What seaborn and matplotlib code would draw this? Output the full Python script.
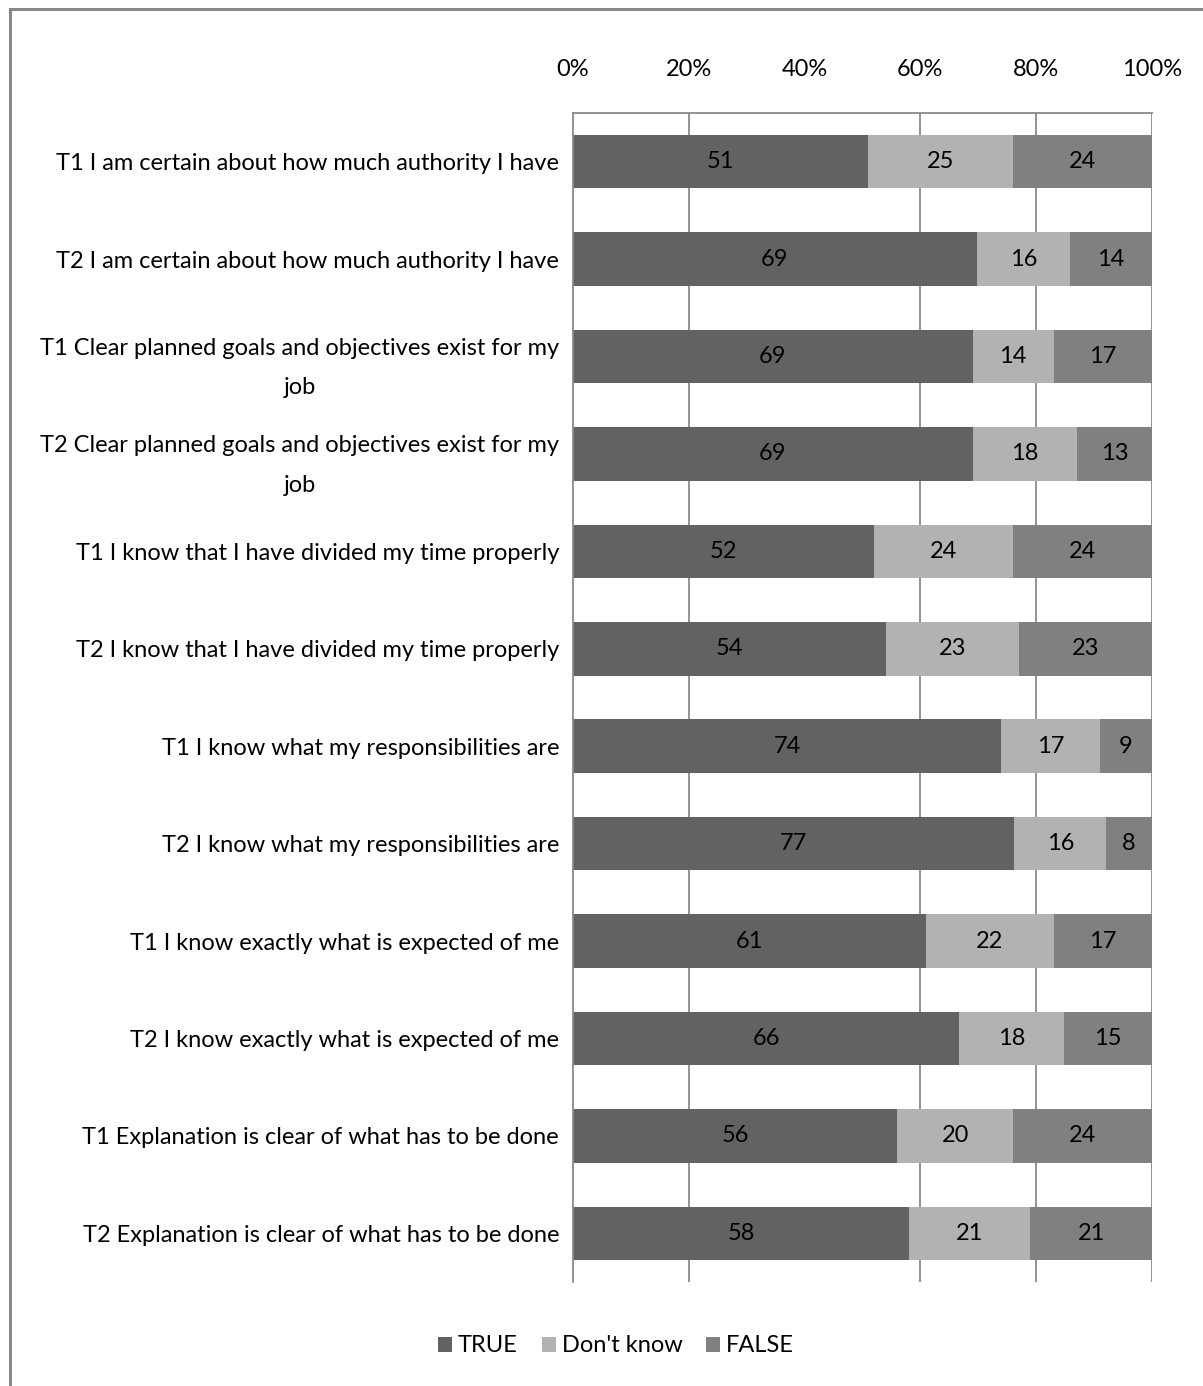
import matplotlib
matplotlib.use("Agg")
import matplotlib.pyplot as plt
from matplotlib.patches import Rectangle, Patch
import numpy as np
import pandas as pd
import seaborn as sns

# Survey statements (T1 / T2 waves) and response percentages
statements = [
    "T1 I am certain about how much authority I have",
    "T2 I am certain about how much authority I have",
    "T1 Clear planned goals and objectives exist for my\njob",
    "T2 Clear planned goals and objectives exist for my\njob",
    "T1 I know that I have divided my time properly",
    "T2 I know that I have divided my time properly",
    "T1 I know what my responsibilities are",
    "T2 I know what my responsibilities are",
    "T1 I know exactly what is expected of me",
    "T2 I know exactly what is expected of me",
    "T1 Explanation is clear of what has to be done",
    "T2 Explanation is clear of what has to be done",
]
true_pct = [51, 69, 69, 69, 52, 54, 74, 77, 61, 66, 56, 58]
dontknow_pct = [25, 16, 14, 18, 24, 23, 17, 16, 22, 18, 20, 21]
false_pct = [24, 14, 17, 13, 24, 23, 9, 8, 17, 15, 24, 21]

series_names = ["TRUE", "Don't know", "FALSE"]
series_colors = ["#626262", "#b2b2b2", "#808080"]
x_ticks = [0, 20, 40, 60, 80, 100]
grid_at = [20, 60, 80, 100]

sns.set_theme(style="white")
plt.rcParams["font.family"] = ["Lato", "DejaVu Sans"]
plt.rcParams["text.color"] = "black"
plt.rcParams["xtick.color"] = "black"
plt.rcParams["ytick.color"] = "black"

df = pd.DataFrame({
    "statement": statements,
    "TRUE": true_pct,
    "Don't know": dontknow_pct,
    "FALSE": false_pct,
})
totals = df[series_names].sum(axis=1)
share = df[series_names].div(totals, axis=0) * 100
cum = share.cumsum(axis=1)

W, H = 1203, 1386
FS = 17
fig = plt.figure(figsize=(W / 100, H / 100), dpi=100)
ax = fig.add_axes([573 / W, 1 - 1282 / H, (1152 - 573) / W, (1282 - 113) / H])

# Outer frame of the chart area
fig.patches.append(Rectangle((10 / W, -0.05), 1.2, 1 - 8.5 / H + 0.05,
                             transform=fig.transFigure, fill=False,
                             edgecolor="#888888", linewidth=2.2, zorder=0))

# Vertical gridlines
for g in grid_at:
    ax.axvline(g, color="#8a8a8a", linewidth=1.3, zorder=0)

# Stacked 100% bars: draw cumulative totals from the outermost segment inward
for name, color in zip(reversed(series_names), reversed(series_colors)):
    plot_df = pd.DataFrame({"statement": statements, "value": cum[name].values})
    sns.barplot(data=plot_df, x="value", y="statement", orient="h",
                color=color, saturation=1, width=0.55, linewidth=0,
                ax=ax, zorder=2)

# Value labels centred in each segment
left = np.zeros(len(statements))
for name in series_names:
    widths = share[name].values
    for i, (l, w, v) in enumerate(zip(left, widths, df[name].values)):
        ax.text(l + w / 2, i, f"{v}", ha="center", va="center",
                fontsize=FS, color="black", zorder=3)
    left = left + widths

ax.set_xlim(0, 100)
ax.set_ylim(len(statements) - 0.5, -0.5)
ax.set_xlabel("")
ax.set_ylabel("")
ax.xaxis.tick_top()
ax.set_xticks(x_ticks)
ax.set_xticklabels([f"{t}%" for t in x_ticks], fontsize=FS)
ax.tick_params(axis="x", length=0, pad=24)
ax.tick_params(axis="y", length=0, pad=10)
ax.set_yticks(range(len(statements)))
ax.set_yticklabels(statements, fontsize=FS, multialignment="center",
                   linespacing=2.1)

for side in ["right", "bottom"]:
    ax.spines[side].set_visible(False)
for side in ["top", "left"]:
    ax.spines[side].set_color("#8a8a8a")
    ax.spines[side].set_linewidth(1.3)

handles = [Patch(facecolor=c, edgecolor="none", label=n)
           for n, c in zip(series_names, series_colors)]
fig.legend(handles=handles, loc="center", ncol=3, frameon=False,
           bbox_to_anchor=(616 / W, 1 - 1346 / H), fontsize=FS,
           handlelength=0.6, handleheight=0.6, handletextpad=0.25,
           columnspacing=1.0)

fig.savefig("out.png", dpi=100, facecolor="white")
